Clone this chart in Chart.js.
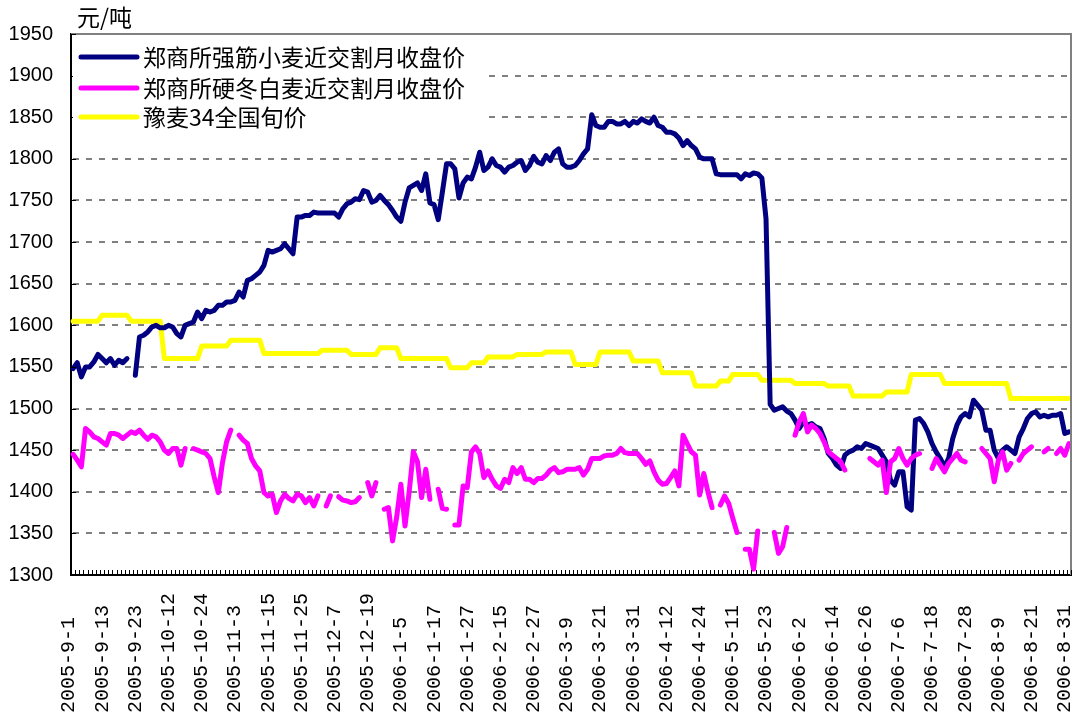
<!DOCTYPE html>
<html>
<head>
<meta charset="utf-8">
<script src="https://cdn.jsdelivr.net/npm/chart.js@4.4.0/dist/chart.umd.min.js"></script>
<style>
  body { margin: 0; background: #fff; }
  #wrap { width: 1075px; height: 716px; }
</style>
</head>
<body>
<div id="wrap"><canvas id="grafica" width="1075" height="716"></canvas></div>
<script>
// labels shown under the axis, one every 8 trading days
var tickLabels = ['2005-9-1', '2005-9-13', '2005-9-23', '2005-10-12', '2005-10-24', '2005-11-3',
  '2005-11-15', '2005-11-25', '2005-12-7', '2005-12-19', '2006-1-5', '2006-1-17', '2006-1-27',
  '2006-2-15', '2006-2-27', '2006-3-9', '2006-3-21', '2006-3-31', '2006-4-12', '2006-4-24',
  '2006-5-11', '2006-5-23', '2006-6-2', '2006-6-14', '2006-6-26', '2006-7-6', '2006-7-18',
  '2006-7-28', '2006-8-9', '2006-8-21', '2006-8-31'];
var tickEvery = 8;

var seriesNames = ['郑商所强筋小麦近交割月收盘价', '郑商所硬冬白麦近交割月收盘价', '豫麦34全国旬价'];
var unitLabel = '元/吨';

// 郑商所强筋小麦近交割月收盘价
var qiangjin = [
  1548, 1555, 1538, 1550, 1550, 1556, 1565, 1560, 1555, 1560,
  1552, 1558, 1555, 1560, null, 1540, 1586, 1588, 1592, 1598,
  1600, 1597, 1597, 1600, 1598, 1590, 1586, 1600, 1602, 1604,
  1616, 1608, 1618, 1616, 1618, 1624, 1624, 1628, 1628, 1630,
  1640, 1634, 1654, 1656, 1660, 1664, 1672, 1690, 1688, 1690,
  1692, 1698, 1692, 1686, 1730, 1730, 1732, 1732, 1736, 1735,
  1735, 1735, 1735, 1735, 1730, 1740, 1746, 1748, 1752, 1751,
  1762, 1760, 1748, 1750, 1756, 1750, 1745, 1738, 1730, 1725,
  1748, 1765, 1768, 1771, 1762, 1782, 1747, 1745, 1727, 1760,
  1794, 1794, 1788, 1753, 1771, 1778, 1776, 1790, 1808, 1786,
  1790, 1800, 1792, 1790, 1784, 1790, 1792, 1796, 1798, 1786,
  1792, 1803, 1796, 1794, 1804, 1798, 1808, 1812, 1794, 1790,
  1790, 1792, 1798, 1806, 1812, 1853, 1840, 1838, 1838, 1845,
  1845, 1842, 1842, 1845, 1840, 1845, 1843, 1848, 1845, 1843,
  1850, 1840, 1838, 1832, 1832, 1830, 1825, 1816, 1822, 1816,
  1812, 1802, 1800, 1800, 1800, 1782, 1781, 1781, 1781, 1781,
  1781, 1776, 1782, 1780, 1783, 1782, 1777, 1728, 1505, 1498,
  1500, 1502, 1497, 1494, 1486, 1476, 1484, 1480, 1482, 1478,
  1476, 1464, 1446, 1440, 1432, 1428, 1444, 1448, 1450, 1454,
  1452, 1458, 1456, 1454, 1452, 1444, 1436, 1414, 1408, 1424,
  1424, 1382, 1378, 1486, 1488, 1482, 1472, 1458, 1448, 1440,
  1430, 1440, 1464, 1480, 1490, 1494, 1490, 1510, 1504, 1498,
  1474, 1474, 1450, 1440, 1450, 1454, 1450, 1446, 1466, 1476,
  1488, 1494, 1496, 1490, 1492, 1490, 1492, 1492, 1494, 1470,
  1472
];

// 郑商所硬冬白麦近交割月收盘价
var yingdong = [
  1445, 1438, 1430, 1476, 1472, 1466, 1464, 1460, 1456, 1470,
  1470, 1468, 1464, 1468, 1472, 1470, 1474, 1468, 1463, 1468,
  1466, 1460, 1450, 1446, 1452, 1452, 1432, 1452, null, 1452,
  1450, 1448, 1446, 1440, 1418, 1399, 1435, 1460, 1474, null,
  1468, 1462, 1458, 1440, 1431, 1425, 1399, 1395, 1397, 1375,
  1389, 1397, 1392, 1389, 1397, 1395, 1387, 1393, 1383, 1395,
  null, 1383, 1395, null, 1394, 1390, 1389, 1387, 1388, 1393,
  null, 1411, 1395, 1411, null, 1379, 1381, 1341, 1370, 1409,
  1359, 1400, 1448, 1436, 1393, 1427, 1391, null, 1403, 1380,
  1379, null, 1360, 1360, 1407, 1405, 1448, 1454, 1446, 1417,
  1425, 1415, 1407, 1404, 1415, 1411, 1429, 1422, 1429, 1415,
  1415, 1411, 1416, 1416, 1420, 1426, 1429, 1423, 1424, 1427,
  1427, 1427, 1429, 1420, 1427, 1440, 1440, 1440, 1443, 1444,
  1444, 1446, 1452, 1447, 1446, 1446, 1446, 1440, 1433, 1437,
  1424, 1414, 1409, 1410, 1417, 1425, 1407, 1468, 1458, 1448,
  1444, 1396, 1422, 1400, 1381, null, 1384, 1395, 1386, 1368,
  1351, null, 1331, 1331, 1307, 1353, null, null, null, 1351,
  1326, 1334, 1357, null, 1468, 1484, 1494, 1472, 1480, 1476,
  1470, 1460, 1448, 1444, 1440, 1436, 1426, null, null, null,
  null, null, 1440, 1436, 1432, 1438, 1399, 1436, 1440, 1452,
  1440, 1432, 1440, 1444, 1446, null, null, 1428, 1440, 1432,
  1424, 1434, 1440, 1446, 1438, 1436, null, null, null, 1452,
  1446, 1440, 1412, 1438, 1448, 1426, 1434, null, 1438, 1446,
  1450, 1454, null, null, 1448, 1452, null, 1446, 1452, 1444,
  1458
];

// 豫麦34全国旬价
var yumai = [
  1605, 1605, 1605, 1605, 1605, 1605, 1605, 1612, 1612, 1612,
  1612, 1612, 1612, 1612, 1605, 1605, 1605, 1605, 1605, 1605,
  1605, 1605, 1560, 1560, 1560, 1560, 1560, 1560, 1560, 1560,
  1560, 1575, 1575, 1575, 1575, 1575, 1575, 1575, 1582, 1582,
  1582, 1582, 1582, 1582, 1582, 1582, 1566, 1566, 1566, 1566,
  1566, 1566, 1566, 1566, 1566, 1566, 1566, 1566, 1566, 1566,
  1570, 1570, 1570, 1570, 1570, 1570, 1570, 1565, 1565, 1565,
  1565, 1565, 1565, 1565, 1573, 1573, 1573, 1573, 1573, 1560,
  1560, 1560, 1560, 1560, 1560, 1560, 1560, 1560, 1560, 1560,
  1560, 1549, 1549, 1549, 1549, 1549, 1555, 1555, 1555, 1555,
  1562, 1562, 1562, 1562, 1562, 1562, 1562, 1565, 1565, 1565,
  1565, 1565, 1565, 1565, 1568, 1568, 1568, 1568, 1568, 1568,
  1568, 1553, 1553, 1553, 1553, 1553, 1553, 1568, 1568, 1568,
  1568, 1568, 1568, 1568, 1568, 1557, 1557, 1557, 1557, 1557,
  1557, 1557, 1543, 1543, 1543, 1543, 1543, 1543, 1543, 1543,
  1527, 1527, 1527, 1527, 1527, 1527, 1533, 1533, 1533, 1541,
  1541, 1541, 1541, 1541, 1541, 1541, 1534, 1534, 1534, 1534,
  1534, 1534, 1534, 1534, 1530, 1530, 1530, 1530, 1530, 1530,
  1530, 1530, 1527, 1527, 1527, 1527, 1527, 1527, 1515, 1515,
  1515, 1515, 1515, 1515, 1515, 1515, 1520, 1520, 1520, 1520,
  1520, 1520, 1541, 1541, 1541, 1541, 1541, 1541, 1541, 1541,
  1530, 1530, 1530, 1530, 1530, 1530, 1530, 1530, 1530, 1530,
  1530, 1530, 1530, 1530, 1530, 1530, 1512, 1512, 1512, 1512,
  1512, 1512, 1512, 1512, 1512, 1512, 1512, 1512, 1512, 1512,
  1512
];

var colores = ['#000080', '#ff00ff', '#ffff00'];

// one category per trading day, label only every 8th
var categories = [];
for (var i = 0; i < qiangjin.length; i++) {
  categories.push(i % tickEvery === 0 ? tickLabels[i / tickEvery] : '');
}

var decor = {
  id: 'decor',
  beforeDatasetsDraw: function (chart) {
    // dashed horizontal grid lines
    var ctx = chart.ctx, a = chart.chartArea, ys = chart.scales.y;
    ctx.save();
    ctx.strokeStyle = '#808080';
    ctx.lineWidth = 2;
    ctx.lineCap = 'butt';
    ctx.setLineDash([6, 7]);
    ctx.lineDashOffset = 0;
    ys.ticks.forEach(function (t) {
      if (t.value === ys.min || t.value === ys.max) return;
      var gy = Math.round(ys.getPixelForValue(t.value));
      ctx.beginPath();
      ctx.moveTo(a.left + 2, gy);
      ctx.lineTo(a.right, gy);
      ctx.stroke();
    });
    ctx.restore();
  },
  afterDatasetsDraw: function (chart) {
    var ctx = chart.ctx, a = chart.chartArea;
    var xs = chart.scales.x, ys = chart.scales.y;
    ctx.save();
    ctx.setLineDash([]);

    // gray frame top / right
    ctx.strokeStyle = '#808080';
    ctx.lineWidth = 2;
    ctx.beginPath();
    ctx.moveTo(a.left, a.top);
    ctx.lineTo(a.right, a.top);
    ctx.lineTo(a.right, a.bottom);
    ctx.stroke();

    // small inward tick marks
    ctx.strokeStyle = '#000';
    ctx.lineWidth = 1;
    var half = (xs.getPixelForValue(1) - xs.getPixelForValue(0)) / 2;
    ctx.beginPath();
    for (var j = 0; j <= categories.length; j++) {
      var tx = Math.round(xs.getPixelForValue(j) - half) + 0.5;
      ctx.moveTo(tx, a.bottom);
      ctx.lineTo(tx, a.bottom - 5);
    }
    ys.ticks.forEach(function (t) {
      var ty = Math.round(ys.getPixelForValue(t.value)) + 0.5;
      ctx.moveTo(a.left, ty);
      ctx.lineTo(a.left + 5, ty);
    });
    ctx.stroke();

    // legend inside the plot
    ctx.fillStyle = '#fff';
    ctx.fillRect(a.left + 2, a.top + 2, 412, 101);
    ctx.lineCap = 'round';
    ctx.lineWidth = 5;
    ctx.font = '23px "Noto Sans CJK SC"';
    ctx.textAlign = 'left';
    ctx.textBaseline = 'middle';
    var rows = [57, 88, 117];
    for (var k = 0; k < seriesNames.length; k++) {
      ctx.strokeStyle = colores[k];
      ctx.beginPath();
      ctx.moveTo(a.left + 10, rows[k]);
      ctx.lineTo(a.left + 66, rows[k]);
      ctx.stroke();
      ctx.fillStyle = '#000';
      ctx.fillText(seriesNames[k], a.left + 72, rows[k]);
    }
    ctx.restore();
  },
  afterDraw: function (chart) {
    var ctx = chart.ctx, a = chart.chartArea, xs = chart.scales.x;
    ctx.save();
    ctx.fillStyle = '#000';
    ctx.font = '23px "Noto Sans CJK SC"';
    ctx.textAlign = 'left';
    ctx.textBaseline = 'middle';
    ctx.fillText(unitLabel, a.left + 6, 17);

    // vertical date labels, read from the bottom up
    ctx.font = '20px "Liberation Mono"';
    for (var i = 0; i < categories.length; i++) {
      if (!categories[i]) continue;
      ctx.save();
      ctx.translate(xs.getPixelForValue(i) - 4, 713);
      ctx.rotate(-Math.PI / 2);
      ctx.fillText(categories[i], 0, 0);
      ctx.restore();
    }
    ctx.restore();
  }
};

var lineOpts = {
  pointRadius: 0,
  pointHoverRadius: 0,
  borderWidth: 5,
  tension: 0,
  spanGaps: false,
  fill: false,
  borderJoinStyle: 'round',
  borderCapStyle: 'round'
};

var datasets = [
  Object.assign({ label: seriesNames[0], data: qiangjin, borderColor: colores[0], order: 2 }, lineOpts),
  Object.assign({ label: seriesNames[1], data: yingdong, borderColor: colores[1], order: 1 }, lineOpts),
  Object.assign({ label: seriesNames[2], data: yumai, borderColor: colores[2], order: 3 }, lineOpts)
];

var grafica = new Chart(document.getElementById('grafica'), {
  type: 'line',
  data: { labels: categories, datasets: datasets },
  options: {
    responsive: false,
    animation: false,
    devicePixelRatio: 1,
    layout: { padding: { left: 0, top: 34, right: 4, bottom: 0 } },
    plugins: { legend: { display: false }, tooltip: { enabled: false } },
    scales: {
      x: {
        type: 'category',
        offset: true,
        grid: { display: false },
        border: { display: true, color: '#000', width: 2 },
        ticks: { display: false },
        afterFit: function (scale) { scale.height = 141; }
      },
      y: {
        min: 1300,
        max: 1950,
        ticks: {
          stepSize: 50,
          color: '#000',
          padding: 18,
          font: { family: '"Liberation Sans", Arial', size: 20 },
          callback: function (v) { return String(v); }
        },
        grid: { display: false, drawTicks: false },
        border: { display: true, color: '#000', width: 2 },
        afterFit: function (scale) { scale.width = 71; }
      }
    }
  },
  plugins: [decor]
});
</script>
</body>
</html>
